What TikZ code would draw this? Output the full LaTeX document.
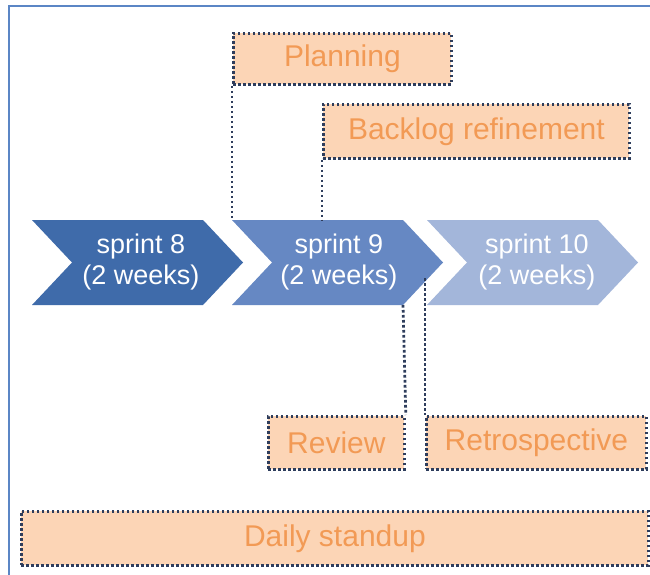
\documentclass[tikz,border=0pt]{standalone}
\usepackage{fontspec}
\setmainfont{Liberation Sans}
\definecolor{framec}{HTML}{5B86C5}
\definecolor{dotc}{HTML}{2E3D5C}
\definecolor{boxfill}{HTML}{FCD5B6}
\definecolor{txtc}{HTML}{F29A55}
\definecolor{cA}{HTML}{3F6BAA}
\definecolor{cB}{HTML}{6688C3}
\definecolor{cC}{HTML}{A3B6DA}
\tikzset{
  dotline/.style={draw=dotc, line width=2.8pt, dash pattern=on 2.6pt off 2.4pt},
  actbox/.style={dotline, fill=boxfill, text=txtc, font=\fontsize{30}{32}\selectfont,
    inner sep=0pt, anchor=north west},
  sprinttxt/.style={text=white, align=center, font=\fontsize{27}{31}\selectfont, inner sep=0pt},
}
\begin{document}
\begin{tikzpicture}[x=1pt,y=-1pt]
\useasboundingbox (0,0) rectangle (650,575);
\fill[white] (0,0) rectangle (650,575);
\draw[framec, line width=2pt] (9,576) -- (9,6) -- (651,6);

% chevrons
\fill[cA] (32,220) -- (203,220) -- (243,262.5) -- (203,305) -- (32,305) -- (72,262.5) -- cycle;
\fill[cB] (232,220) -- (403,220) -- (443,262.5) -- (403,305) -- (232,305) -- (272,262.5) -- cycle;
\fill[cC] (427,220) -- (598,220) -- (638,262.5) -- (598,305) -- (427,305) -- (467,262.5) -- cycle;
\coordinate (s9top) at (232,220);
\coordinate (s9mid) at (322,220);
\coordinate (s9bot) at (403,305);
\coordinate (s10low) at (425,278);

\node[sprinttxt] (t8) at (141,262) {sprint 8\\(2 weeks)};
\node[sprinttxt] (t9) at (339,262) {sprint 9\\(2 weeks)};
\node[sprinttxt] (t10) at (537,262) {sprint 10\\(2 weeks)};

% activity boxes
\node[actbox, minimum width=218pt, minimum height=51pt] (plan) at (232,32) {Planning};
\node[actbox, minimum width=306pt, minimum height=54pt] (back) at (322,103) {Backlog refinement};
\node[actbox, minimum width=136pt, minimum height=53pt] (rev) at (267,415) {Review};
\node[actbox, minimum width=220pt, minimum height=53pt] (retro) at (425,415) {Retrospective};
\node[actbox, minimum width=627pt, minimum height=54pt] (daily) at (20,510) {Daily standup};

% connectors
\draw[dotline] (plan.south west) -- (s9top);
\draw[dotline] (back.south west) -- (s9mid);
\draw[dotline] (s9bot) -- (rev.north east);
\draw[dotline] (s10low) -- (retro.north west);
\end{tikzpicture}
\end{document}
